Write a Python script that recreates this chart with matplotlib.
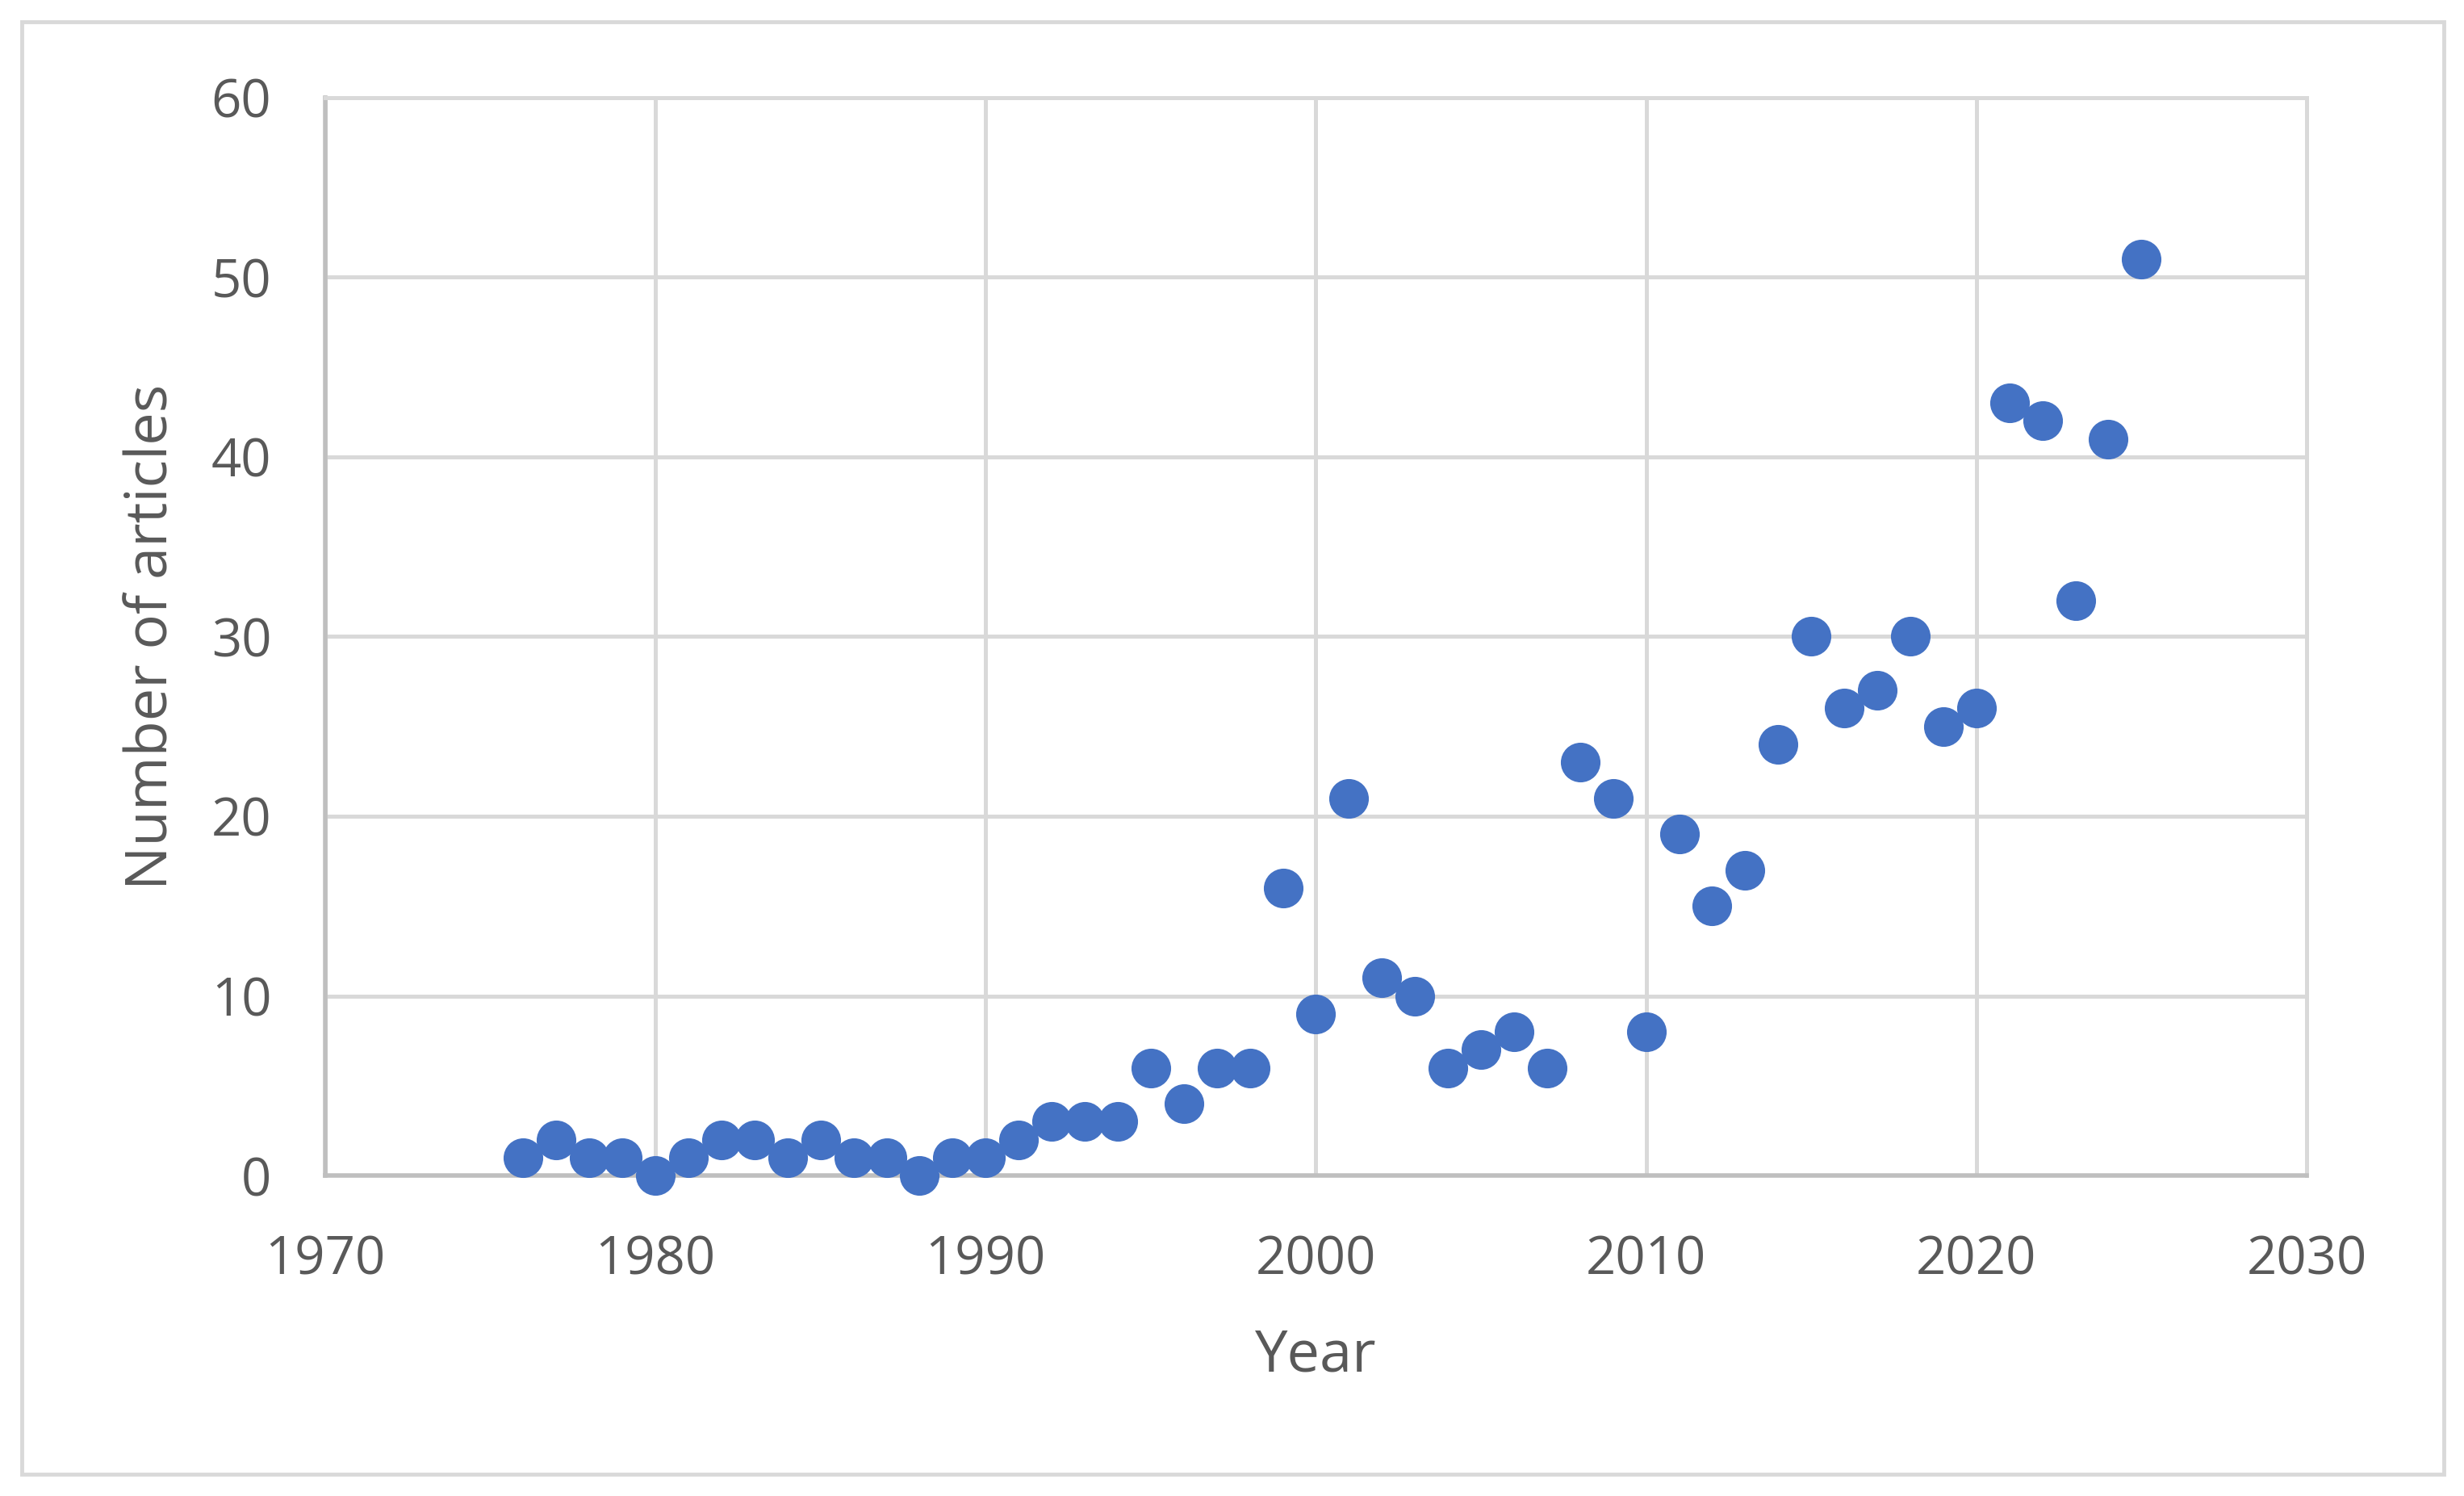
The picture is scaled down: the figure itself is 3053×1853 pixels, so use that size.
import matplotlib.pyplot as plt
from matplotlib.patches import Rectangle

years = list(range(1976, 2026))
articles = [1, 2, 1, 1, 0, 1, 2, 2, 1, 2,
            1, 1, 0, 1, 1, 2, 3, 3, 3, 6,
            4, 6, 6, 16, 9, 21, 11, 10, 6, 7,
            8, 6, 23, 21, 8, 19, 15, 17, 24, 30,
            26, 27, 30, 25, 26, 43, 42, 32, 41, 51]
x_ticks = [1970, 1980, 1990, 2000, 2010, 2020, 2030]
y_ticks = [0, 10, 20, 30, 40, 50, 60]

plt.rcParams['font.family'] = ['Open Sans', 'DejaVu Sans']
text_col = '#595959'

fig = plt.figure(figsize=(30.53, 18.53), dpi=100)
ax = fig.add_axes([403 / 3053, 1 - 1456 / 1853, (2858 - 403) / 3053, (1456 - 121) / 1853])

# outer chart border
fig.patches.append(Rectangle((27 / 3053, 27 / 1853), (3028 - 27) / 3053, (1826 - 27) / 1853,
                             transform=fig.transFigure, fill=False,
                             edgecolor='#d9d9d9', linewidth=3.5))

# points sit on top of the axis line, not clipped at y=0
ax.scatter(years, articles, s=1250, color='#4472c4', zorder=5, linewidths=0, clip_on=False)

ax.set_xlim(1970, 2030)
ax.set_ylim(0, 60)
ax.set_xticks(x_ticks)
ax.set_yticks(y_ticks)
ax.grid(True, color='#d9d9d9', linewidth=3.6)
ax.set_axisbelow(True)

for side in ['top', 'right']:
    ax.spines[side].set_color('#d9d9d9')
    ax.spines[side].set_linewidth(3.6)
for side in ['left', 'bottom']:
    ax.spines[side].set_color('#bfbfbf')
    ax.spines[side].set_linewidth(4.0)

ax.tick_params(axis='both', length=0, labelsize=47, labelcolor=text_col)
ax.tick_params(axis='x', pad=52)
ax.tick_params(axis='y', pad=48)

ax.set_xlabel('Year', fontsize=52, color=text_col, labelpad=36)
ax.set_ylabel('Number of articles', fontsize=52, color=text_col, labelpad=27)

fig.savefig('out.png', dpi=100, facecolor='white')
